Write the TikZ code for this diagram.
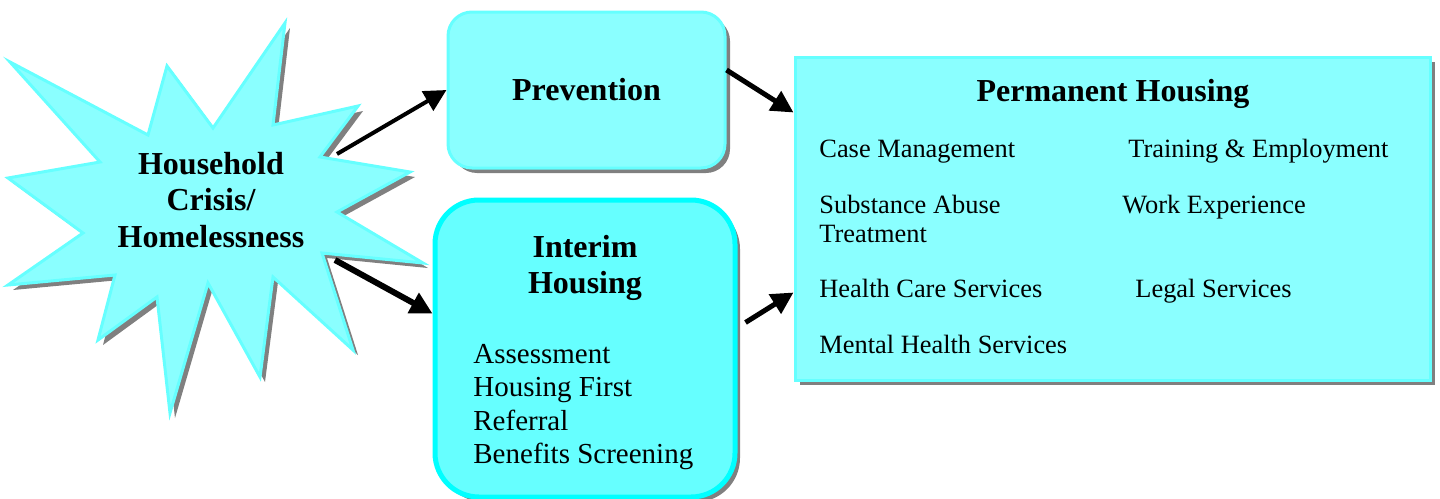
\documentclass[tikz,border=0pt]{standalone}
\usepackage{fontspec}
\setmainfont{Liberation Serif}
\usepackage{tikz}
\usetikzlibrary{arrows.meta,shadows}
\definecolor{cyanfill}{HTML}{8AFFFF}
\definecolor{cyanedge}{HTML}{66FFFF}
\definecolor{cyandeep}{HTML}{00FFFF}
\definecolor{boxshade}{HTML}{808080}
\newcommand{\burstpath}{(10,62) -- (148,135) -- (167,66) -- (213,128) -- (285,23) -- (273,125)
  -- (358,106) -- (320,157) -- (410,172) -- (337,212) -- (423,263) -- (322,253)
  -- (353,350) -- (273,277) -- (260,377) -- (208,283) -- (170,413) -- (157,297)
  -- (98,340) -- (115,275) -- (8,285) -- (83,233) -- (8,178) -- (100,162) -- cycle}

\begin{document}
\begin{tikzpicture}[x=0.5pt,y=-0.5pt,
  shadowbox/.style={drop shadow={shadow xshift=2.5pt,shadow yshift=-2.5pt,fill=boxshade,opacity=1}},
  burst/.style={fill=cyanfill,draw=cyanedge,line width=1.5pt,line join=miter},
  softbox/.style={shadowbox,rectangle,rounded corners=12pt,fill=cyanfill,draw=cyanedge,line width=1.5pt},
  bigbox/.style={shadowbox,rectangle,rounded corners=22pt,fill=cyanedge,draw=cyandeep,line width=2.5pt},
  flatbox/.style={shadowbox,rectangle,fill=cyanfill,draw=cyanedge,line width=1.5pt},
  head/.style={font=\bfseries\fontsize{16}{18.25}\selectfont,inner sep=0pt},
  item/.style={font=\fontsize{13.2}{14.5}\selectfont,anchor=base west,inner sep=0pt},
  arr/.style={-{Triangle[length=11pt,width=11pt]},line width=2.5pt}]
\useasboundingbox (0,0) rectangle (1440,498);

% the crisis burst
\fill[boxshade,shift={(5,5)}] \burstpath;
\draw[burst] \burstpath;
\node[head,align=center] (crisis) at (211,200) {Household\\Crisis/\\Homelessness};
\coordinate (crisisup) at (337,154);
\coordinate (crisisdn) at (335,260);

% prevention and interim housing
\node[softbox,head,minimum width=138.5pt,minimum height=78pt] (prev) at (586.5,90) {Prevention};
\node[bigbox,minimum width=150pt,minimum height=148.5pt] (interim) at (585,348.5) {};
\node[head,align=center] (interimhead) at (585,268) {Interim\\Housing};
\node[anchor=north west,inner sep=0pt,align=left,font=\fontsize{14.5}{16.7}\selectfont] (interimlist) at (473,344)
  {Assessment\\Housing First\\Referral\\Benefits Screening};

% permanent housing
\node[flatbox,minimum width=317.5pt,minimum height=161.5pt] (perm) at (1112.5,218.5) {};
\node[head,anchor=base] (permhead) at (1113,101) {Permanent Housing};
\node[item] (casemgmt) at (819,157) {Case Management};
\node[item,align=left] (substance) at (819,242) {Substance Abuse\\Treatment};
\node[item] (health) at (819,297) {Health Care Services};
\node[item] (mental) at (819,353) {Mental Health Services};
\node[item] (training) at (1128,157) {Training \& Employment};
\node[item] (work) at (1122,213) {Work Experience};
\node[item] (legal) at (1135,297) {Legal Services};

% arrows
\draw[arr,line width=2pt] (crisisup) -- (prev.west);
\draw[arr,line width=3pt] (crisisdn) -- ([yshift=17.5pt]interim.west);
\draw[arr] ([yshift=10pt]prev.east) -- ([yshift=53pt]perm.west);
\draw[arr] ([xshift=4pt,yshift=13pt]interim.east) -- ([yshift=-37pt]perm.west);
\end{tikzpicture}
\end{document}
